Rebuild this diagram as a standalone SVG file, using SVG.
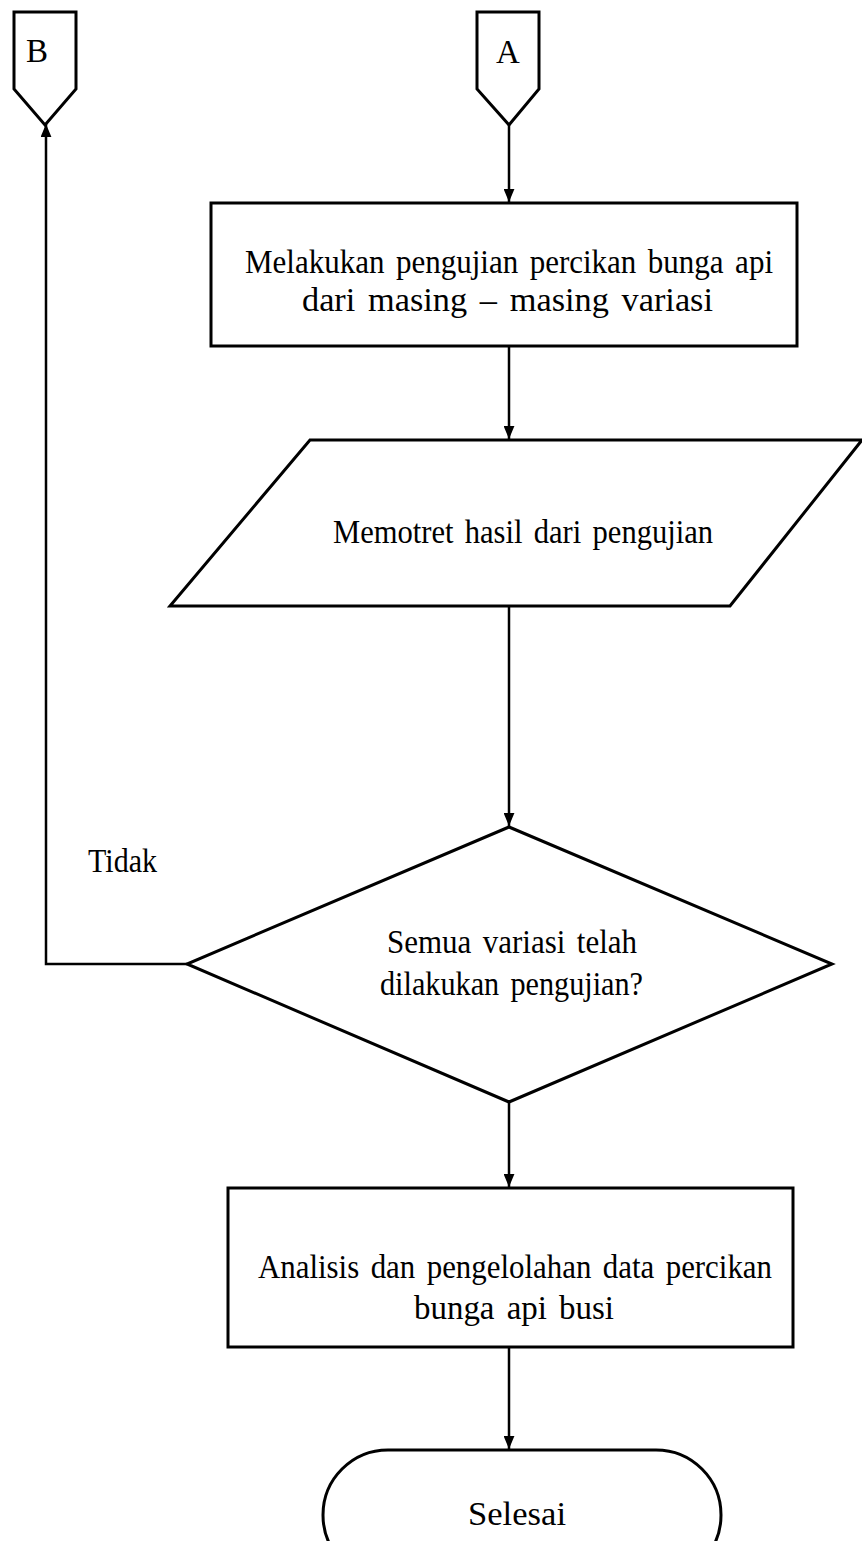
<svg xmlns="http://www.w3.org/2000/svg" width="862" height="1541" viewBox="0 0 862 1541">
  <style>
    .shape { fill: #ffffff; stroke: #000000; stroke-width: 3; }
    .line { fill: none; stroke: #000000; stroke-width: 2.5; }
    .label { font-family: "Liberation Serif", "Times New Roman", serif; font-size: 33px; fill: #000000; }
    .wide { word-spacing: 4px; }
  </style>
  <defs>
    <marker id="arrow" viewBox="0 0 12 10" refX="12" refY="5" markerWidth="13" markerHeight="11" orient="auto" markerUnits="userSpaceOnUse">
      <path d="M0,0 L12,5 L0,10 Z" fill="#000000"/>
    </marker>
  </defs>

  <!-- connectors -->
  <g id="connectors">
    <line class="line" x1="509" y1="125" x2="509" y2="202" marker-end="url(#arrow)"/>
    <line class="line" x1="509" y1="346" x2="509" y2="439" marker-end="url(#arrow)"/>
    <line class="line" x1="509" y1="606" x2="509" y2="826" marker-end="url(#arrow)"/>
    <polyline class="line" points="187,964 46,964 46,124" marker-end="url(#arrow)"/>
    <line class="line" x1="509" y1="1102" x2="509" y2="1187" marker-end="url(#arrow)"/>
    <line class="line" x1="509" y1="1347" x2="509" y2="1449" marker-end="url(#arrow)"/>
    <text class="label" x="88" y="872" textLength="69" lengthAdjust="spacingAndGlyphs">Tidak</text>
    <text class="label" x="538" y="1040" textLength="34" lengthAdjust="spacingAndGlyphs">Ya</text>
  </g>

  <!-- off-page connector B -->
  <g id="node-b">
    <polygon class="shape" points="14,12 76,12 76,89 45,125 14,89"/>
    <text class="label" x="37" y="62" text-anchor="middle">B</text>
  </g>

  <!-- off-page connector A -->
  <g id="node-a">
    <polygon class="shape" points="477,12 539,12 539,89 509,125 477,89"/>
    <text class="label" x="508" y="63" text-anchor="middle">A</text>
  </g>

  <!-- process: spark test -->
  <g id="node-test">
    <rect class="shape" x="211" y="203" width="586" height="143"/>
    <text class="label wide" x="245" y="273" textLength="528" lengthAdjust="spacingAndGlyphs">Melakukan pengujian percikan bunga api</text>
    <text class="label wide" x="302" y="311" textLength="411" lengthAdjust="spacingAndGlyphs">dari masing – masing variasi</text>
  </g>

  <!-- input/output: photograph results -->
  <g id="node-photo">
    <polygon class="shape" points="310,440 862,440 730,606 170,606"/>
    <text class="label wide" x="333" y="543" textLength="380" lengthAdjust="spacingAndGlyphs">Memotret hasil dari pengujian</text>
  </g>

  <!-- decision -->
  <g id="node-decision">
    <polygon class="shape" points="509,827 832,964 509,1102 187,964"/>
    <text class="label wide" x="387" y="953" textLength="250" lengthAdjust="spacingAndGlyphs">Semua variasi telah</text>
    <text class="label wide" x="380" y="995" textLength="263" lengthAdjust="spacingAndGlyphs">dilakukan pengujian?</text>
  </g>

  <!-- process: analysis -->
  <g id="node-analysis">
    <rect class="shape" x="228" y="1188" width="565" height="159"/>
    <text class="label wide" x="258" y="1278" textLength="514" lengthAdjust="spacingAndGlyphs">Analisis dan pengelolahan data percikan</text>
    <text class="label wide" x="414" y="1319" textLength="200" lengthAdjust="spacingAndGlyphs">bunga api busi</text>
  </g>

  <!-- terminator -->
  <g id="node-end">
    <rect class="shape" x="323" y="1450" width="398" height="130" rx="65" ry="65"/>
    <text class="label" x="468" y="1525" textLength="98" lengthAdjust="spacingAndGlyphs">Selesai</text>
  </g>
</svg>
